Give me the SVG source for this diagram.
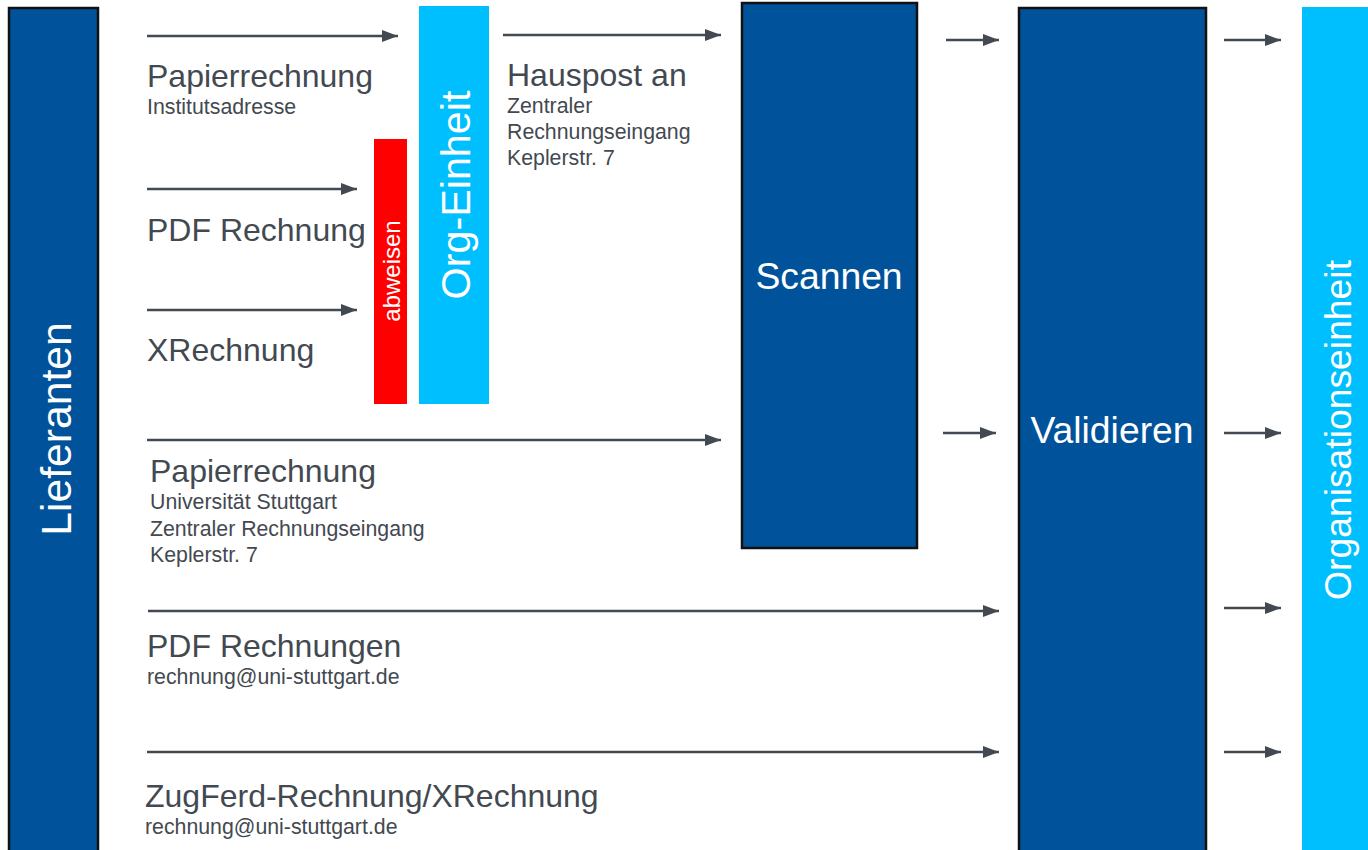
<svg xmlns="http://www.w3.org/2000/svg" width="1368" height="850" viewBox="0 0 1368 850">
<defs>
<marker id="ah" viewBox="0 0 16 12" refX="16" refY="6" markerWidth="16" markerHeight="12" markerUnits="userSpaceOnUse" orient="auto">
<path d="M0,0 L16,6 L0,12 z" fill="#434950"/>
</marker>
<style>
.dark{fill:#00529b;stroke:#111;stroke-width:2.5}
.light{fill:#00bfff}
.wt{fill:#fff;font-family:"Liberation Sans",Arial,sans-serif}
.lb{fill:#434950;font-family:"Liberation Sans",Arial,sans-serif}
.big{font-size:32px}
.sm{font-size:21.3px}
.conn line{stroke:#434950;stroke-width:2.5;marker-end:url(#ah)}
</style>
</defs>
<rect width="1368" height="850" fill="#fff"/>
<g id="lieferanten">
<rect class="dark" x="9" y="8" width="89" height="850"/>
<text class="wt" font-size="42.7" text-anchor="middle" transform="translate(71,429) rotate(-90)">Lieferanten</text>
</g>
<g id="abweisen">
<rect fill="#ff0000" x="374" y="139" width="33" height="265"/>
<text class="wt" font-size="24" text-anchor="middle" transform="translate(400,271) rotate(-90)">abweisen</text>
</g>
<g id="org-einheit">
<rect class="light" x="419" y="6" width="70" height="398"/>
<text class="wt" font-size="41.3" text-anchor="middle" transform="translate(470,195) rotate(-90)">Org-Einheit</text>
</g>
<g id="scannen">
<rect class="dark" x="742" y="3" width="175" height="545"/>
<text class="wt" font-size="37.3" text-anchor="middle" x="829" y="289">Scannen</text>
</g>
<g id="validieren">
<rect class="dark" x="1019" y="8" width="187" height="850"/>
<text class="wt" font-size="37.3" text-anchor="middle" x="1112" y="443">Validieren</text>
</g>
<g id="organisationseinheit">
<rect class="light" x="1302" y="7" width="70" height="850"/>
<text class="wt" font-size="37.3" text-anchor="middle" transform="translate(1351,430) rotate(-90)">Organisationseinheit</text>
</g>
<g id="connectors" class="conn">
<line x1="147" y1="36" x2="398" y2="36"/>
<line x1="147" y1="189" x2="357" y2="189"/>
<line x1="147" y1="310" x2="357" y2="310"/>
<line x1="503" y1="35" x2="721" y2="35"/>
<line x1="147" y1="440" x2="721" y2="440"/>
<line x1="946" y1="40" x2="999" y2="40"/>
<line x1="943" y1="433" x2="996" y2="433"/>
<line x1="148" y1="611" x2="999" y2="611"/>
<line x1="147" y1="752" x2="999" y2="752"/>
<line x1="1224" y1="40" x2="1281" y2="40"/>
<line x1="1224" y1="433" x2="1281" y2="433"/>
<line x1="1224" y1="608" x2="1281" y2="608"/>
<line x1="1224" y1="752" x2="1281" y2="752"/>
</g>
<g id="labels">
<text class="lb big" x="147" y="87">Papierrechnung</text>
<text class="lb sm" x="147" y="114">Institutsadresse</text>
<text class="lb big" x="147" y="241">PDF Rechnung</text>
<text class="lb big" x="147" y="361">XRechnung</text>
<text class="lb big" x="507" y="86">Hauspost an</text>
<text class="lb sm" x="507" y="113">Zentraler</text>
<text class="lb sm" x="507" y="139">Rechnungseingang</text>
<text class="lb sm" x="507" y="165">Keplerstr. 7</text>
<text class="lb big" x="150" y="482">Papierrechnung</text>
<text class="lb sm" x="150" y="509">Universität Stuttgart</text>
<text class="lb sm" x="150" y="536">Zentraler Rechnungseingang</text>
<text class="lb sm" x="150" y="562">Keplerstr. 7</text>
<text class="lb big" x="147" y="657">PDF Rechnungen</text>
<text class="lb sm" x="147" y="684">rechnung@uni-stuttgart.de</text>
<text class="lb big" x="145" y="807">ZugFerd-Rechnung/XRechnung</text>
<text class="lb sm" x="145" y="834">rechnung@uni-stuttgart.de</text>
</g>
</svg>
